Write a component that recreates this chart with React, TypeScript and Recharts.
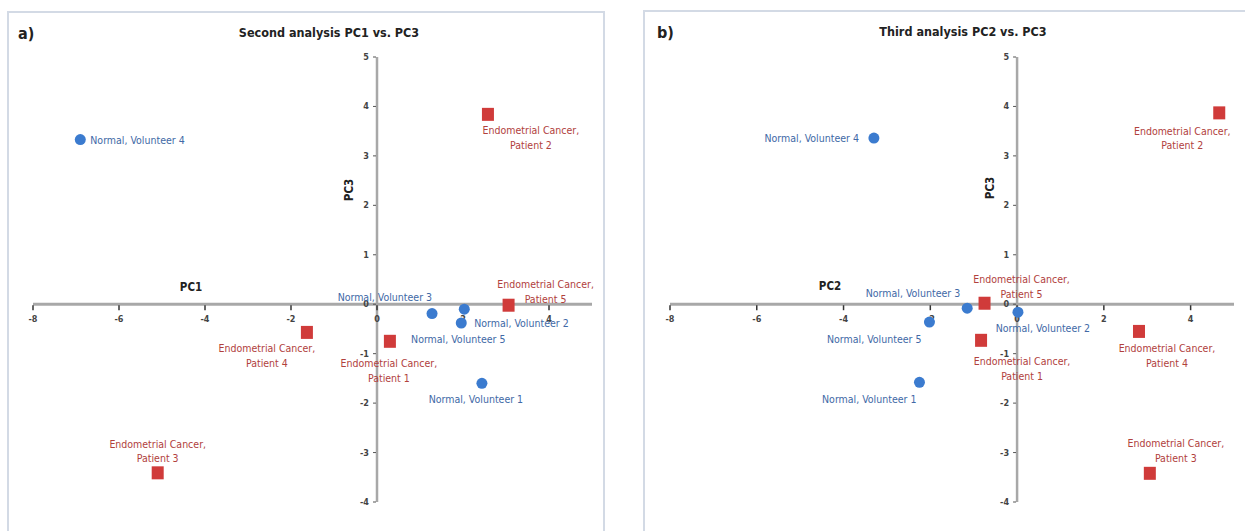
import { ScatterChart, Scatter, XAxis, YAxis, ReferenceLine, ReferenceDot } from 'recharts';

const volunteers = ['Normal, Volunteer 1', 'Normal, Volunteer 2', 'Normal, Volunteer 3', 'Normal, Volunteer 4', 'Normal, Volunteer 5'];
const patients = ['Patient 1', 'Patient 2', 'Patient 3', 'Patient 4', 'Patient 5'];

// a) second analysis, PC1 vs PC3
const volunteerPC1 = [2.44, 2.03, 1.28, -6.9, 1.96];
const volunteerPC3a = [-1.6, -0.1, -0.19, 3.33, -0.38];
const patientPC1 = [0.3, 2.58, -5.1, -1.63, 3.06];
const patientPC3a = [-0.75, 3.84, -3.41, -0.57, -0.02];

// b) third analysis, PC2 vs PC3
const volunteerPC2 = [-2.25, 0.02, -1.15, -3.3, -2.02];
const volunteerPC3b = [-1.58, -0.16, -0.08, 3.36, -0.36];
const patientPC2 = [-0.83, 4.66, 3.06, 2.81, -0.75];
const patientPC3b = [-0.73, 3.87, -3.42, -0.55, 0.02];

const xTicks = [-8, -6, -4, -2, 0, 2, 4];
const yTicks = [-4, -3, -2, -1, 0, 1, 2, 3, 4, 5];

// label placement per point: [dx, dy, anchor]
type Place = [number, number, 'start' | 'middle' | 'end'];
const volunteerLabelsA: Place[] = [[-6, 16, 'middle'], [10, 14, 'start'], [0, -17, 'end'], [10, 0, 'start'], [-3, 16, 'middle']];
const patientLabelsA: Place[] = [[-1, 22, 'middle'], [43, 16, 'middle'], [0, -29, 'middle'], [-40, 16, 'middle'], [37, -21, 'middle']];
const volunteerLabelsB: Place[] = [[-3, 17, 'end'], [25, 16, 'middle'], [-7, -15, 'end'], [-15, 0, 'end'], [-8, 17, 'end']];
const patientLabelsB: Place[] = [[41, 21, 'middle'], [-37, 18, 'middle'], [26, -30, 'middle'], [28, 17, 'middle'], [37, -24, 'middle']];

const FONT = "'Liberation Sans Narrow', 'DejaVu Sans Condensed', Arial, sans-serif";
const BLUE = '#3b7bcf';
const BLUE_TEXT = '#4169a6';
const RED = '#d03b3a';
const RED_TEXT = '#b1413d';
const LABEL_SIZE = 10.5;

const zip = (names: string[], xs: number[], ys: number[]) =>
  names.map((name, i) => ({ name, x: xs[i], y: ys[i], i }));

const makeVolunteerShape = (places: Place[]) => (props: any) => {
  const { cx, cy, payload } = props;
  const [dx, dy, anchor] = places[payload.i];
  return (
    <g>
      <circle cx={cx} cy={cy} r={5.5} fill={BLUE} />
      <text x={cx + dx} y={cy + dy} textAnchor={anchor} dominantBaseline="central"
        fontSize={LABEL_SIZE} fontFamily={FONT} fill={BLUE_TEXT}>{payload.name}</text>
    </g>
  );
};

const makePatientShape = (places: Place[]) => (props: any) => {
  const { cx, cy, payload } = props;
  const [dx, dy, anchor] = places[payload.i];
  return (
    <g>
      <rect x={cx - 6} y={cy - 6.5} width={12} height={13} fill={RED} />
      <text x={cx + dx} y={cy + dy} textAnchor={anchor} dominantBaseline="central"
        fontSize={LABEL_SIZE} fontFamily={FONT} fill={RED_TEXT}>Endometrial Cancer,</text>
      <text x={cx + dx} y={cy + dy + 14.5} textAnchor={anchor} dominantBaseline="central"
        fontSize={LABEL_SIZE} fontFamily={FONT} fill={RED_TEXT}>{payload.name}</text>
    </g>
  );
};

const xTickShape = (value: number) => (props: any) => (
  <g>
    <line x1={props.cx} y1={props.cy + 1} x2={props.cx} y2={props.cy + 6} stroke="#333" strokeWidth={1.5} />
    <text x={props.cx} y={props.cy + 15} textAnchor="middle" dominantBaseline="central"
      fontSize={9} fontWeight="bold" fontFamily={FONT} fill="#444">{value}</text>
  </g>
);

const yTickShape = (value: number) => (props: any) => (
  <g>
    <line x1={props.cx - 4} y1={props.cy} x2={props.cx - 1} y2={props.cy} stroke="#555" strokeWidth={1} />
    <text x={props.cx - 8} y={props.cy} textAnchor="end" dominantBaseline="central"
      fontSize={9} fontWeight="bold" fontFamily={FONT} fill="#444">{value}</text>
  </g>
);

type PanelProps = {
  left: number;
  width: number;
  margin: { top: number; right: number; bottom: number; left: number };
  normals: { name: string; x: number; y: number; i: number }[];
  cancers: { name: string; x: number; y: number; i: number }[];
  volunteerPlaces: Place[];
  patientPlaces: Place[];
};

const Panel = ({ left, width, margin, normals, cancers, volunteerPlaces, patientPlaces }: PanelProps) => (
  <div style={{ position: 'absolute', left, top: 0 }}>
    <ScatterChart width={width} height={531} margin={margin} style={{ overflow: 'visible' }}>
      <XAxis type="number" dataKey="x" domain={[-8, 5]} ticks={xTicks} hide />
      <YAxis type="number" dataKey="y" domain={[-4, 5]} ticks={yTicks} hide />
      <ReferenceLine y={0} stroke="#a8a8a8" strokeWidth={3} />
      <ReferenceLine x={0} stroke="#a8a8a8" strokeWidth={2.5} />
      {xTicks.map((t) => (
        <ReferenceDot key={'x' + t} x={t} y={0} r={0} shape={xTickShape(t)} />
      ))}
      {yTicks.map((t) => (
        <ReferenceDot key={'y' + t} x={0} y={t} r={0} shape={yTickShape(t)} />
      ))}
      <Scatter data={normals} isAnimationActive={false} shape={makeVolunteerShape(volunteerPlaces)} />
      <Scatter data={cancers} isAnimationActive={false} shape={makePatientShape(patientPlaces)} />
    </ScatterChart>
  </div>
);

const txt = (extra: React.CSSProperties): React.CSSProperties => ({
  position: 'absolute',
  fontFamily: FONT,
  fontWeight: 'bold',
  color: '#222',
  whiteSpace: 'nowrap',
  lineHeight: 1,
  ...extra,
});

export default function App() {
  return (
    <div style={{ position: 'absolute', left: 0, top: 0, width: 1245, height: 531, background: '#fff', overflow: 'hidden' }}>
      <div style={{ position: 'absolute', left: 7, top: 11, width: 594, height: 530, border: '2px solid #d3dae5' }} />
      <div style={{ position: 'absolute', left: 643, top: 10, width: 610, height: 530, border: '2px solid #d3dae5' }} />

      <Panel left={0} width={610} margin={{ top: 57, right: 18, bottom: 29, left: 33 }}
        normals={zip(volunteers, volunteerPC1, volunteerPC3a)}
        cancers={zip(patients, patientPC1, patientPC3a)}
        volunteerPlaces={volunteerLabelsA} patientPlaces={patientLabelsA} />
      <Panel left={625} width={620} margin={{ top: 57, right: 11, bottom: 29, left: 45 }}
        normals={zip(volunteers, volunteerPC2, volunteerPC3b)}
        cancers={zip(patients, patientPC2, patientPC3b)}
        volunteerPlaces={volunteerLabelsB} patientPlaces={patientLabelsB} />

      <div style={txt({ left: 18, top: 26, fontSize: 16 })}>a)</div>
      <div style={txt({ left: 329, top: 27, fontSize: 12.5, transform: 'translateX(-50%)' })}>Second analysis PC1 vs. PC3</div>
      <div style={txt({ left: 191, top: 282, fontSize: 11.5, transform: 'translateX(-50%)' })}>PC1</div>
      <div style={txt({ left: 350, top: 190, fontSize: 11.5, transform: 'translate(-50%, -50%) rotate(-90deg)' })}>PC3</div>

      <div style={txt({ left: 657, top: 25, fontSize: 16 })}>b)</div>
      <div style={txt({ left: 963, top: 26, fontSize: 12.5, transform: 'translateX(-50%)' })}>Third analysis PC2 vs. PC3</div>
      <div style={txt({ left: 830, top: 281, fontSize: 11.5, transform: 'translateX(-50%)' })}>PC2</div>
      <div style={txt({ left: 991, top: 188, fontSize: 11.5, transform: 'translate(-50%, -50%) rotate(-90deg)' })}>PC3</div>
    </div>
  );
}
